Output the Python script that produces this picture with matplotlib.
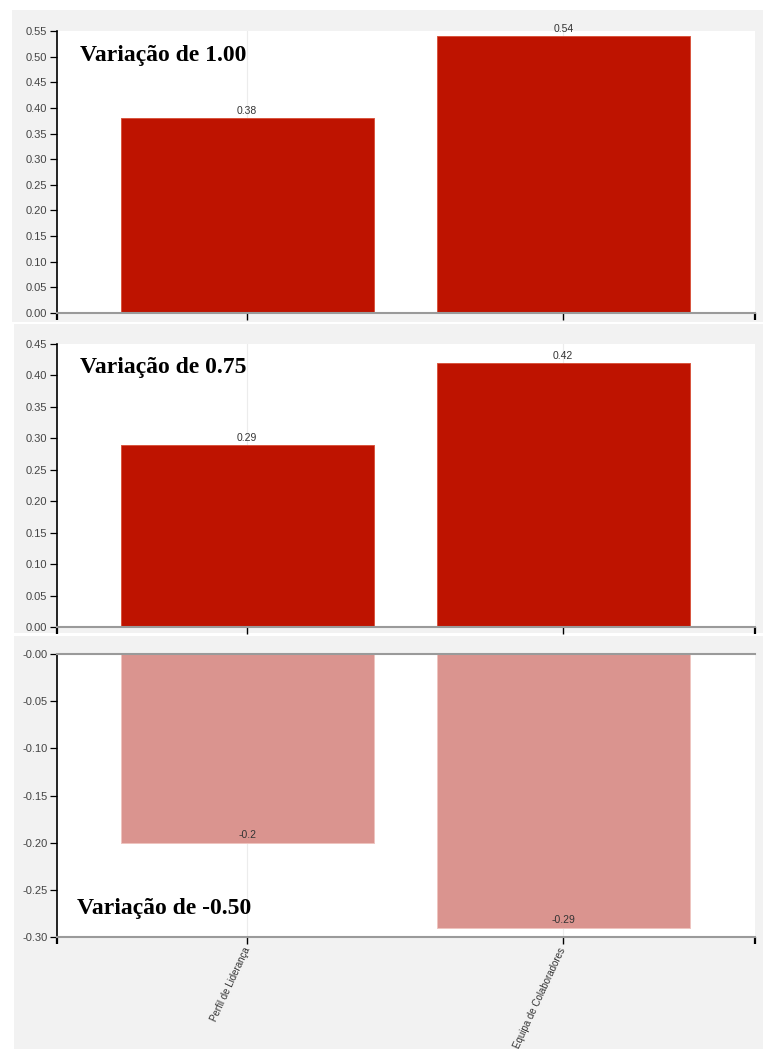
import matplotlib
matplotlib.use("Agg")
import matplotlib.pyplot as plt
from matplotlib.patches import Rectangle
from matplotlib.ticker import FixedLocator

# ---- data ----
categories = ["Perfil de Liderança", "Equipa de Colaboradores"]
titles = ["Variação de 1.00", "Variação de 0.75", "Variação de -0.50"]
values_100 = [0.38, 0.54]
values_075 = [0.29, 0.42]
values_m050 = [-0.20, -0.29]
yticks_100 = [0.00, 0.05, 0.10, 0.15, 0.20, 0.25, 0.30, 0.35, 0.40, 0.45, 0.50, 0.55]
yticks_075 = [0.00, 0.05, 0.10, 0.15, 0.20, 0.25, 0.30, 0.35, 0.40, 0.45]
yticks_m050 = [-0.00, -0.05, -0.10, -0.15, -0.20, -0.25, -0.30]

W, H = 763, 1049
fig = plt.figure(figsize=(W / 100, H / 100), dpi=100)
fig.patch.set_facecolor("white")

POS_COLOR = "#BE1300"
POS_EDGE = "#d8553f"
NEG_COLOR = "#DA948F"
NEG_EDGE = "#efc4bf"
PANEL_BG = "#f2f2f2"


def px_rect(x0, y0, x1, y1):
    return [x0 / W, 1 - y1 / H, (x1 - x0) / W, (y1 - y0) / H]


def panel_background(x0, y0, x1, y1):
    fig.add_artist(Rectangle((x0 / W, 1 - y1 / H), (x1 - x0) / W, (y1 - y0) / H,
                             transform=fig.transFigure, facecolor=PANEL_BG,
                             edgecolor="none", zorder=0))


def draw_panel(rect, values, yticks, ylim, title, title_xy, show_labels):
    ax = fig.add_axes(px_rect(*rect))
    ax.set_facecolor("white")
    x = list(range(len(categories)))
    xlim = (-0.602, len(categories) - 1 + 0.607)
    ax.set_xlim(*xlim)
    ax.set_ylim(*ylim)

    for xi in x:
        ax.axvline(xi, color="#ececec", lw=0.8, zorder=0.5)

    neg = values[0] < 0
    bars = ax.bar(x, values, width=0.8,
                  color=NEG_COLOR if neg else POS_COLOR,
                  edgecolor=NEG_EDGE if neg else POS_EDGE,
                  linewidth=0.7, zorder=2)
    for b, v in zip(bars, values):
        cx = b.get_x() + b.get_width() / 2
        offset = 1.5 if v >= 0 else 2
        ax.annotate(f"{v:g}", (cx, v), xytext=(0, offset), textcoords="offset points",
                    ha="center", va="bottom", fontsize=7.5, color="#333333",
                    family="Liberation Sans", zorder=3)

    # spines
    for s in ("top", "right"):
        ax.spines[s].set_visible(False)
    ax.spines["left"].set_color("black")
    ax.spines["left"].set_linewidth(1.2)
    ax.spines["bottom"].set_color("#9a9a9a")
    ax.spines["bottom"].set_linewidth(1.5)
    if neg:
        ax.axhline(0, color="#9a9a9a", lw=1.5, zorder=4, clip_on=False)

    # y axis
    ax.yaxis.set_major_locator(FixedLocator(yticks))
    ax.set_yticklabels([f"{t:.2f}" for t in yticks])
    ax.tick_params(axis="y", direction="out", length=5, width=0.9, color="black",
                   labelsize=8, labelcolor="#444444", pad=2)
    for lab in ax.get_yticklabels():
        lab.set_family("Liberation Sans")

    # x axis
    ax.set_xticks(x)
    ax.xaxis.set_minor_locator(FixedLocator(list(xlim)))
    ax.tick_params(axis="x", which="major", direction="out", length=5, width=1.0,
                   color="black")
    ax.tick_params(axis="x", which="minor", direction="out", length=5, width=1.6,
                   color="black")
    if show_labels:
        ax.set_xticklabels(categories, rotation=65, ha="right", va="center",
                           rotation_mode="anchor", fontsize=7, color="#333333",
                           family="Liberation Sans")
        ax.tick_params(axis="x", which="major", pad=3)
    else:
        ax.set_xticklabels([])

    fig.text(title_xy[0] / W, 1 - title_xy[1] / H, title, ha="left", va="baseline",
             fontsize=17, fontweight="bold", family="Liberation Serif", color="black",
             zorder=5)
    return ax


panel_background(12, 10, 763, 322)
panel_background(14, 324, 763, 633)
panel_background(14, 636, 763, 1049)

draw_panel((57, 31, 755, 313), values_100, yticks_100, (0, 0.55), titles[0], (80, 60.5), False)
draw_panel((57, 344, 755, 627), values_075, yticks_075, (0, 0.45), titles[1], (80, 373), False)
draw_panel((57, 654, 755, 937), values_m050, yticks_m050, (-0.30, 0), titles[2], (77, 914), True)

fig.savefig("out.png", dpi=100)
